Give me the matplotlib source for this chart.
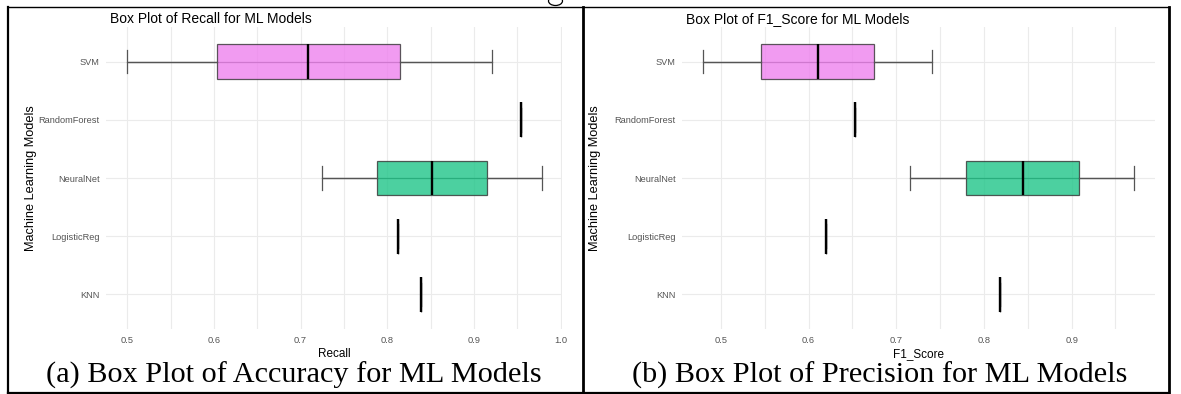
import matplotlib
matplotlib.use("Agg")
import matplotlib.pyplot as plt
from matplotlib.lines import Line2D
from matplotlib.patches import Ellipse
from matplotlib.ticker import MultipleLocator

W, H = 1181, 394

# models from bottom to top of each panel
models = ["KNN", "LogisticReg", "NeuralNet", "RandomForest", "SVM"]

# Recall (left panel): whisker low, q1, median, q3, whisker high
recall_lo = [0.839, 0.812, 0.725, 0.954, 0.500]
recall_q1 = [0.839, 0.812, 0.788, 0.954, 0.604]
recall_med = [0.839, 0.812, 0.852, 0.954, 0.709]
recall_q3 = [0.839, 0.812, 0.915, 0.954, 0.815]
recall_hi = [0.839, 0.812, 0.978, 0.954, 0.921]

# F1_Score (right panel)
f1_lo = [0.818, 0.620, 0.716, 0.653, 0.480]
f1_q1 = [0.818, 0.620, 0.780, 0.653, 0.5455]
f1_med = [0.818, 0.620, 0.844, 0.653, 0.611]
f1_q3 = [0.818, 0.620, 0.908, 0.653, 0.675]
f1_hi = [0.818, 0.620, 0.971, 0.653, 0.741]

box_colors = ["#1FC588", "#1FC588", "#1FC588", "violet", "violet"]

recall_ticks = [0.5, 0.6, 0.7, 0.8, 0.9, 1.0]
f1_ticks = [0.5, 0.6, 0.7, 0.8, 0.9]

plt.rcParams["font.family"] = ["Liberation Sans", "DejaVu Sans"]

fig = plt.figure(figsize=(W / 100, H / 100), dpi=100)


def px_axes(x0, x1, y0, y1):
    return fig.add_axes([x0 / W, 1 - y1 / H, (x1 - x0) / W, (y1 - y0) / H])


def draw_panel(ax, lo, q1, med, q3, hi, ticks, xlim, xlabel, title, ylab_px):
    pos = list(range(1, len(models) + 1))
    stats = []
    for i, m in enumerate(models):
        stats.append({"label": m, "whislo": lo[i], "q1": q1[i], "med": med[i],
                      "q3": q3[i], "whishi": hi[i], "fliers": []})
    # errorbar line runs through the whole range, under the box
    ax.hlines(pos, lo, hi, color="#555555", lw=0.9, zorder=2)
    bp = ax.bxp(stats, positions=pos, widths=0.6, capwidths=0.4,
                orientation="horizontal", patch_artist=True,
                showfliers=False,
                boxprops=dict(edgecolor="#333333", linewidth=0.9),
                whiskerprops=dict(color="#555555", linewidth=0.9),
                capprops=dict(color="#555555", linewidth=0.9),
                medianprops=dict(color="black", linewidth=1.7),
                zorder=3)
    for patch, c in zip(bp["boxes"], box_colors):
        patch.set_facecolor(c)
        patch.set_alpha(0.8)
    for med_line in bp["medians"]:
        med_line.set_zorder(4)

    ax.set_xlim(*xlim)
    ax.set_ylim(0.4, len(models) + 0.6)
    ax.set_xticks(ticks)
    ax.set_xticklabels([f"{t:.1f}" for t in ticks])
    ax.xaxis.set_minor_locator(MultipleLocator(0.05))
    ax.set_yticks(pos)
    ax.set_yticklabels(models)
    ax.grid(True, which="major", color="#EBEBEB", lw=0.8, zorder=0)
    ax.grid(True, which="minor", axis="x", color="#EBEBEB", lw=0.8, zorder=0)
    ax.set_axisbelow(True)
    for s in ax.spines.values():
        s.set_visible(False)
    ax.tick_params(which="both", length=0)
    ax.tick_params(axis="y", pad=4.5, labelsize=6.7, labelcolor="#555555")
    ax.tick_params(axis="x", pad=5, labelsize=6.7, labelcolor="#555555")
    ax.set_xlabel(xlabel, fontsize=8.5, labelpad=2)
    ax.set_ylabel("Machine Learning Models", fontsize=9.2)
    x0 = ax.get_position().x0 * W
    ax.yaxis.set_label_coords((ylab_px - x0) / (ax.get_position().width * W), 0.5)
    ax.set_title(title, fontsize=10, loc="left", pad=3, x=0.008)


ax1 = px_axes(106, 562.4, 27, 329)
draw_panel(ax1, recall_lo, recall_q1, recall_med, recall_q3, recall_hi,
           recall_ticks, (0.4755, 1.002), "Recall",
           "Box Plot of Recall for ML Models", 37)

ax2 = px_axes(681.8, 1155.4, 27, 329)
draw_panel(ax2, f1_lo, f1_q1, f1_med, f1_q3, f1_hi,
           f1_ticks, (0.4555, 0.9955), "F1_Score",
           "Box Plot of F1_Score for ML Models", 601)

# captions of the document table
fig.text(294 / W, 1 - 383 / H, "(a) Box Plot of Accuracy for ML Models",
         family="Liberation Serif", fontsize=21.8, ha="center", va="baseline")
fig.text(880 / W, 1 - 383 / H, "(b) Box Plot of Precision for ML Models",
         family="Liberation Serif", fontsize=21.8, ha="center", va="baseline")

# tail of a glyph from the line of text above the table
fig.add_artist(Ellipse((555.5 / W, 1 - 1 / H), 14 / W, 9 / H, fill=False,
                       edgecolor="black", lw=0.9, transform=fig.transFigure))


# table borders
def border(xs, ys, lw):
    fig.add_artist(Line2D([x / W for x in xs], [1 - y / H for y in ys],
                          color="black", lw=lw, transform=fig.transFigure))


border([7.5, 1169], [7.3, 7.3], 1.0)
border([7.5, 7.5], [7.3, 393], 1.6)
border([582.7, 582.7], [7.3, 393], 2.0)
border([1169, 1169], [7.3, 393], 2.0)
border([7.5, 1169], [392.5, 392.5], 1.6)

fig.savefig("out.png", dpi=100)
